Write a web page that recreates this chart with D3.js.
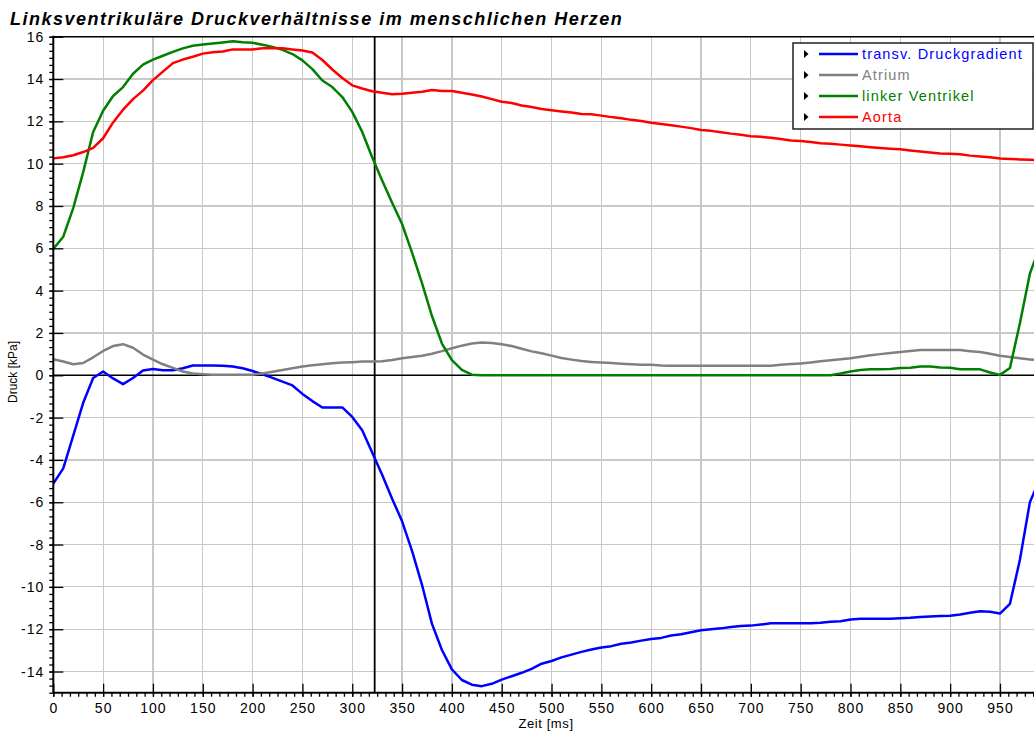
<!DOCTYPE html>
<meta charset="utf-8">
<style>
 body { margin: 0; background: #fff; }
 svg { font-family: "Liberation Sans", Arial, sans-serif; background: #fff; display: block; }
 .grid line { stroke: #c8c8c8; stroke-width: 1.2px; shape-rendering: crispEdges; }
 .axis path { display: none; }
 .axis line { stroke: #000; stroke-width: 1.3px; }
 .axis text { font-size: 14px; fill: #000; letter-spacing: 1px; }
</style>
<body>
<svg width="1034" height="736"></svg>
</body>
<script src="https://cdn.jsdelivr.net/npm/d3@7"></script>
<script>

 var title = "Linksventrikuläre Druckverhältnisse im menschlichen Herzen";
 var xLabel = "Zeit [ms]";
 var yLabel = "Druck [kPa]";
 var seriesNames = ["transv. Druckgradient", "Atrium", "linker Ventrikel", "Aorta"];
 var seriesColors = ["#0000ff", "#808080", "#008000", "#ff0000"];

 // time axis, one sample every 10 ms
 var zeit = d3.range(0, 1000, 10);

 var gradient = [-5.12, -4.4, -2.85, -1.3, -0.13, 0.18, -0.15, -0.42, -0.13, 0.23,
		 0.3, 0.24, 0.24, 0.33, 0.46, 0.46, 0.46, 0.45, 0.41, 0.33,
		 0.2, 0.05, -0.12, -0.3, -0.48, -0.88, -1.22, -1.52, -1.52, -1.52,
		 -1.97, -2.6, -3.65, -4.7, -5.83, -6.9, -8.3, -9.9, -11.75, -12.98,
		 -13.9, -14.4, -14.62, -14.69, -14.58, -14.38, -14.22, -14.06, -13.87, -13.63,
		 -13.5, -13.33, -13.2, -13.07, -12.96, -12.86, -12.8, -12.69, -12.63, -12.54,
		 -12.46, -12.41, -12.3, -12.24, -12.14, -12.05, -12.0, -11.96, -11.9, -11.85,
		 -11.83, -11.78, -11.72, -11.72, -11.72, -11.72, -11.72, -11.7, -11.65, -11.62,
		 -11.54, -11.5, -11.5, -11.5, -11.5, -11.48, -11.46, -11.42, -11.4, -11.38,
		 -11.36, -11.3, -11.22, -11.15, -11.17, -11.26, -10.8, -8.72, -6.0, -4.9];

 var atrium = [0.76, 0.65, 0.52, 0.58, 0.85, 1.15, 1.38, 1.47, 1.3, 0.98,
	       0.74, 0.52, 0.35, 0.18, 0.08, 0.05, 0.03, 0.02, 0.02, 0.02,
	       0.03, 0.08, 0.17, 0.25, 0.33, 0.41, 0.47, 0.52, 0.57, 0.6,
	       0.62, 0.65, 0.65, 0.66, 0.72, 0.8, 0.86, 0.92, 1.02, 1.14,
	       1.28, 1.4, 1.5, 1.55, 1.53, 1.47, 1.38, 1.25, 1.13, 1.04,
	       0.93, 0.82, 0.74, 0.67, 0.63, 0.6, 0.58, 0.55, 0.52, 0.5,
	       0.5, 0.46, 0.45, 0.45, 0.45, 0.45, 0.45, 0.45, 0.45, 0.45,
	       0.45, 0.45, 0.45, 0.5, 0.53, 0.56, 0.6, 0.66, 0.71, 0.76,
	       0.81, 0.88, 0.95, 1.0, 1.05, 1.1, 1.15, 1.2, 1.2, 1.2,
	       1.2, 1.19, 1.14, 1.1, 1.02, 0.92, 0.86, 0.8, 0.75, 0.7];

 var ventrikel = [5.97, 6.55, 7.9, 9.6, 11.5, 12.5, 13.2, 13.62, 14.25, 14.68,
		  14.92, 15.1, 15.28, 15.45, 15.57, 15.63, 15.68, 15.73, 15.79, 15.74,
		  15.71, 15.62, 15.52, 15.38, 15.18, 14.88, 14.47, 13.93, 13.62, 13.15,
		  12.45, 11.5, 10.3, 9.2, 8.15, 7.15, 5.8, 4.35, 2.8, 1.5,
		  0.72, 0.25, 0.03, 0, 0, 0, 0, 0, 0, 0,
		  0, 0, 0, 0, 0, 0, 0, 0, 0, 0,
		  0, 0, 0, 0, 0, 0, 0, 0, 0, 0,
		  0, 0, 0, 0, 0, 0, 0, 0, 0, 0.08,
		  0.18, 0.25, 0.29, 0.29, 0.3, 0.34, 0.36, 0.42, 0.41, 0.37,
		  0.36, 0.29, 0.29, 0.28, 0.13, 0.02, 0.34, 2.46, 4.8, 6.1];

 var aorta = [10.25, 10.3, 10.4, 10.55, 10.75, 11.2, 11.95, 12.55, 13.05, 13.45,
	      13.95, 14.35, 14.75, 14.92, 15.05, 15.2, 15.27, 15.3, 15.4, 15.4,
	      15.4, 15.45, 15.45, 15.45, 15.4, 15.35, 15.25, 14.9, 14.45, 14.05,
	      13.7, 13.55, 13.42, 13.35, 13.28, 13.3, 13.35, 13.4, 13.48, 13.43,
	      13.43, 13.35, 13.27, 13.17, 13.05, 12.93, 12.87, 12.75, 12.68, 12.58,
	      12.52, 12.47, 12.42, 12.35, 12.33, 12.27, 12.2, 12.15, 12.07, 12.02,
	      11.93, 11.87, 11.82, 11.75, 11.68, 11.59, 11.55, 11.49, 11.42, 11.37,
	      11.3, 11.27, 11.22, 11.17, 11.1, 11.07, 11.02, 10.97, 10.94, 10.9,
	      10.86, 10.82, 10.78, 10.74, 10.71, 10.68, 10.62, 10.57, 10.53, 10.48,
	      10.47, 10.44, 10.38, 10.34, 10.3, 10.24, 10.22, 10.2, 10.18, 10.17];

 var xTicks = d3.range(0, 951, 50);
 var yTicks = d3.range(-14, 17, 2);
 var cursorTime = 322.5;

 var svg = d3.select("svg");
 var pLeft = 53.3, pRight = 1049.8, pTop = 36.7, pBottom = 692.7;

 var x = d3.scaleLinear().domain([0, 1000]).range([pLeft, pRight]);
 var y = d3.scaleLinear().domain([-15, 16]).range([pBottom, pTop]);

 // plain hyphen for negatives, as in the original
 var plain = function(d){ return String(d); };

 svg.append("defs").append("clipPath").attr("id", "plot")
    .append("rect").attr("x", pLeft).attr("y", pTop)
    .attr("width", pRight - pLeft).attr("height", pBottom - pTop);

 /* grid */
 var grid = svg.append("g").attr("class", "grid");
 grid.selectAll(".gx").data(xTicks.filter(function(d){ return d > 0; }))
     .enter().append("line")
     .attr("x1", function(d){ return x(d); }).attr("x2", function(d){ return x(d); })
     .attr("y1", pTop).attr("y2", pBottom);
 grid.selectAll(".gy").data(yTicks)
     .enter().append("line")
     .attr("x1", pLeft).attr("x2", pRight)
     .attr("y1", function(d){ return y(d); }).attr("y2", function(d){ return y(d); });

 /* zero line, cursor, frame top */
 svg.append("line").attr("x1", pLeft).attr("x2", pRight).attr("y1", y(0)).attr("y2", y(0))
    .attr("stroke", "#000").attr("stroke-width", 1.6);
 svg.append("line").attr("x1", x(cursorTime)).attr("x2", x(cursorTime)).attr("y1", pTop).attr("y2", pBottom)
    .attr("stroke", "#000").attr("stroke-width", 1.8);
 svg.append("line").attr("x1", pLeft).attr("x2", pRight).attr("y1", pTop).attr("y2", pTop)
    .attr("stroke", "#000").attr("stroke-width", 1.6);

 /* curves */
 var series = [gradient, atrium, ventrikel, aorta];
 var line = d3.line()
	      .x(function(d, i){ return x(zeit[i]); })
	      .y(function(d){ return y(d); });
 var curves = svg.append("g").attr("clip-path", "url(#plot)");
 series.forEach(function(s, k){
     curves.append("path").datum(s)
	   .attr("fill", "none")
	   .attr("stroke", seriesColors[k])
	   .attr("stroke-width", 2.5)
	   .attr("stroke-linejoin", "round")
	   .attr("d", line);
 });

 /* y axis */
 svg.append("g").attr("class", "axis")
    .attr("transform", "translate(" + pLeft + ",0)")
    .call(d3.axisLeft(y).tickValues(yTicks).tickSize(4).tickPadding(5).tickFormat(plain));
 svg.append("g").attr("class", "axis")
    .attr("transform", "translate(" + pLeft + ",0)")
    .call(d3.axisRight(y).tickValues(yTicks).tickSize(10).tickFormat(""));
 svg.append("g").attr("class", "axis")
    .attr("transform", "translate(" + pLeft + ",0)")
    .call(d3.axisLeft(y).tickValues(d3.range(-15, 16.01, 1/3)).tickSize(4).tickFormat(""));

 /* x axis */
 svg.append("g").attr("class", "axis")
    .attr("transform", "translate(0," + pBottom + ")")
    .call(d3.axisBottom(x).tickValues(xTicks).tickSize(4).tickPadding(6).tickFormat(plain));
 svg.append("g").attr("class", "axis")
    .attr("transform", "translate(0," + pBottom + ")")
    .call(d3.axisTop(x).tickValues(xTicks).tickSize(9).tickFormat(""));
 svg.append("g").attr("class", "axis")
    .attr("transform", "translate(0," + pBottom + ")")
    .call(d3.axisBottom(x).tickValues(d3.range(0, 1000, 50/6)).tickSize(4).tickFormat(""));

 svg.append("line").attr("x1", pLeft).attr("x2", pLeft).attr("y1", pTop - 1).attr("y2", pBottom + 1)
    .attr("stroke", "#000").attr("stroke-width", 2);
 svg.append("line").attr("x1", pLeft).attr("x2", pRight).attr("y1", pBottom).attr("y2", pBottom)
    .attr("stroke", "#000").attr("stroke-width", 2);

 /* labels */
 svg.append("text").attr("x", 10).attr("y", 25)
    .style("font-size", "18px").style("font-weight", "bold").style("font-style", "italic")
    .style("letter-spacing", "1.5px")
    .text(title);
 svg.append("text").attr("x", 546).attr("y", 728).attr("text-anchor", "middle")
    .style("font-size", "13px").style("letter-spacing", "0.6px").text(xLabel);
 svg.append("text").attr("transform", "translate(17,372) rotate(-90)").attr("text-anchor", "middle")
    .style("font-size", "12px").text(yLabel);

 /* legend */
 var lg = svg.append("g").attr("transform", "translate(793,43)");
 lg.append("rect").attr("width", 240).attr("height", 86)
   .attr("fill", "#fff").attr("stroke", "#222").attr("stroke-width", 1.5);
 seriesNames.forEach(function(name, k){
     var row = lg.append("g").attr("transform", "translate(0," + (11 + k * 21) + ")");
     row.append("path").attr("d", "M11,-4L15.5,0L11,4Z").attr("fill", "#000");
     row.append("line").attr("x1", 26).attr("x2", 65).attr("y1", 0).attr("y2", 0)
	.attr("stroke", seriesColors[k]).attr("stroke-width", 2.6);
     row.append("text").attr("x", 69).attr("y", 5)
	.style("font-size", "14.5px").style("letter-spacing", "1.15px")
	.attr("fill", seriesColors[k]).text(name);
 });

</script>
</html>
